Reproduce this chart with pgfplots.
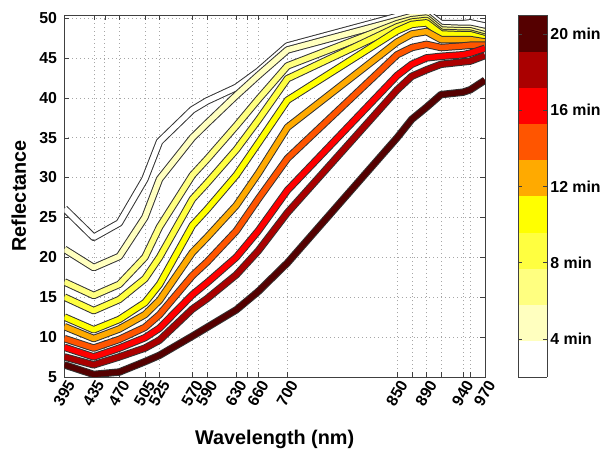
\documentclass[border=0pt]{standalone}
\usepackage{fontspec}
\setmainfont{Liberation Sans}
\usepackage{pgfplots}
\usepackage{pgfplotstable}
\pgfplotsset{compat=1.18}

% reflectance for each exposure time (t1 = shortest, t10 = longest)
\pgfplotstableread{
wl   t1    t2    t3    t4    t5    t6    t7    t8    t9    t10
395  26.1  21.0  16.9  15.0  12.5  11.3  9.8   8.7   7.5   6.5
435  22.5  18.7  15.2  13.3  10.9  9.8   8.6   7.5   6.5   5.3
470  24.3  20.1  16.6  14.7  12.2  11.0  9.7   8.6   7.5   5.6
505  29.8  25.0  20.0  17.3  14.3  12.8  11.2  9.9   8.6   6.9
525  34.5  29.8  23.8  20.0  16.6  14.6  12.8  11.1  9.6   7.7
570  38.5  35.0  30.3  27.3  24.0  20.6  17.7  15.3  13.5  10.1
590  39.6  36.8  32.3  29.3  26.0  22.5  19.4  16.8  14.8  11.2
630  41.3  40.3  36.5  33.5  30.3  26.5  23.3  20.0  17.8  13.4
660  43.3  42.8  39.8  37.2  34.3  30.5  27.3  23.3  20.8  15.7
700  46.5  46.0  44.0  42.4  39.7  36.3  32.4  28.4  25.6  19.3
850  50.2  49.7  49.3  48.9  48.4  47.0  45.4  42.8  41.0  35.0
870  50.7  50.2  49.8  49.5  49.2  48.0  46.3  44.2  42.7  37.3
890  50.7  50.3  50.0  49.7  49.4  48.3  46.7  45.0  43.5  38.8
910  49.3  48.8  48.5  48.2  48.0  47.3  46.3  45.2  44.2  40.4
940  49.3  48.7  48.4  48.1  47.9  47.3  46.5  45.4  44.5  40.7
950  49.4  48.7  48.4  48.1  47.9  47.3  46.6  45.6  44.6  41.0
970  49.0  48.3  47.9  47.6  47.4  47.0  46.6  46.2  45.3  42.2
}\refl

\definecolor{c1}{RGB}{255,255,255}
\definecolor{c2}{RGB}{255,255,191}
\definecolor{c3}{RGB}{255,255,128}
\definecolor{c4}{RGB}{255,255,64}
\definecolor{c5}{RGB}{255,255,0}
\definecolor{c6}{RGB}{255,170,0}
\definecolor{c7}{RGB}{255,85,0}
\definecolor{c8}{RGB}{255,0,0}
\definecolor{c9}{RGB}{170,0,0}
\definecolor{c10}{RGB}{85,0,0}

% outlined line: dark stroke underneath, coloured stroke on top
\newcommand{\refline}[2]{%
  \addplot[black!80, line width=7.5pt, line join=round] table[x=wl,y=#1]{\refl};
  \addplot[#2, line width=5.5pt, line join=round] table[x=wl,y=#1]{\refl};
}

\begin{document}
\begin{tikzpicture}
\begin{axis}[
  scale only axis,
  width=424pt, height=365pt,
  xmin=395, xmax=970, ymin=5, ymax=50.4,
  xtick={395,435,450,470,505,525,570,590,630,645,660,700,850,870,890,910,940,950,970},
  xticklabels={395,435,,470,505,525,570,590,630,,660,700,850,,890,,940,,970},
  ytick={5,10,...,50},
  /pgf/number format/assume math mode=true,
  tick label style={font=\bfseries\fontsize{16}{16}\selectfont},
  xticklabel style={rotate=60, anchor=east, inner sep=1pt, yshift=-8pt},
  yticklabel style={xshift=-4pt},
  label style={font=\bfseries\fontsize{20}{20}\selectfont},
  xlabel={Wavelength (nm)},
  ylabel={Reflectance},
  xlabel style={at={(axis description cs:0.5,-0.186)}, anchor=base},
  ylabel style={at={(axis description cs:-0.092,0.5)}, anchor=base},
  grid=major,
  major grid style={gray!70, dash pattern=on 1pt off 3pt},
  tick align=inside, major tick length=5pt,
  tick style={black!75},
  axis line style={black!75},
  no marks,
  point meta min=2, point meta max=21,
  colormap access=piecewise constant,
  colormap={hotr}{rgb255=(255,255,255) rgb255=(255,255,191) rgb255=(255,255,128)
    rgb255=(255,255,64) rgb255=(255,255,0) rgb255=(255,170,0) rgb255=(255,85,0)
    rgb255=(255,0,0) rgb255=(170,0,0) rgb255=(85,0,0)},
  colorbar,
  colorbar style={
    at={(parent axis.north east)}, anchor=north west, xshift=25pt,
    width=29pt,
    ytick={4,8,12,16,20},
    yticklabels={4 min,8 min,12 min,16 min,20 min},
    yticklabel style={font=\bfseries\fontsize{16}{16}\selectfont},
    ytick pos=both, yticklabel pos=right,
    tick align=inside, major tick length=4pt,
    axis line style={black!75},
  },
]
\refline{t1}{c1}
\refline{t2}{c2}
\refline{t3}{c3}
\refline{t4}{c4}
\refline{t5}{c5}
\refline{t6}{c6}
\refline{t7}{c7}
\refline{t8}{c8}
\refline{t9}{c9}
\refline{t10}{c10}
\end{axis}
\path ([xshift=-65pt,yshift=15pt]current axis.north west) rectangle ([xshift=115pt,yshift=-71pt]current axis.south east);
\end{tikzpicture}
\end{document}
